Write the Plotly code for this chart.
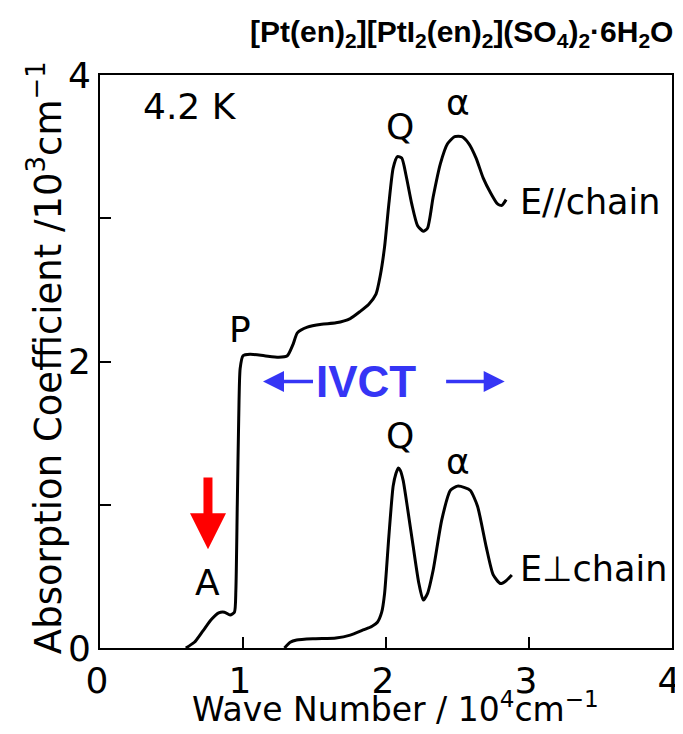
import plotly.graph_objects as go

# E // chain spectrum (x: wave number /10^4 cm^-1, y: absorption /10^3 cm^-1)
par_x = [0.60, 0.66, 0.72, 0.78, 0.83, 0.87, 0.91, 0.94, 0.95, 0.96, 0.97, 0.98, 1.00, 1.05,
         1.15, 1.25, 1.31, 1.35, 1.38, 1.45, 1.55, 1.65, 1.75, 1.82, 1.88, 1.93, 1.96, 1.99,
         2.02, 2.05, 2.08, 2.11, 2.14, 2.18, 2.22, 2.26, 2.29, 2.33, 2.38, 2.43, 2.48, 2.53,
         2.58, 2.63, 2.68, 2.73, 2.78, 2.81, 2.84]
par_y = [0.00, 0.04, 0.12, 0.20, 0.245, 0.25, 0.23, 0.25, 0.40, 1.00, 1.60, 1.95, 2.04, 2.05,
         2.04, 2.03, 2.04, 2.12, 2.20, 2.24, 2.26, 2.27, 2.30, 2.35, 2.40, 2.47, 2.60, 2.80,
         3.10, 3.35, 3.43, 3.42, 3.30, 3.10, 2.95, 2.91, 2.93, 3.15, 3.38, 3.52, 3.57, 3.57,
         3.52, 3.42, 3.28, 3.18, 3.10, 3.09, 3.13]

# E ⊥ chain spectrum
perp_x = [1.29, 1.33, 1.375, 1.50, 1.65, 1.75, 1.84, 1.90, 1.94, 1.97, 1.99, 2.02, 2.05, 2.07,
          2.086, 2.10, 2.12, 2.15, 2.19, 2.23, 2.26, 2.29, 2.33, 2.39, 2.45, 2.50, 2.55, 2.59,
          2.64, 2.70, 2.75, 2.80, 2.84, 2.88]
perp_y = [0.00, 0.04, 0.056, 0.065, 0.07, 0.09, 0.126, 0.15, 0.18, 0.25, 0.38, 0.78, 1.13, 1.22,
          1.257, 1.24, 1.17, 0.98, 0.71, 0.45, 0.335, 0.38, 0.545, 0.895, 1.10, 1.13, 1.12, 1.10,
          0.99, 0.71, 0.51, 0.45, 0.47, 0.51]

x_ticks = [0, 1, 2, 3, 4]
x_ticktext = ["0", "1", "2", "3", "4"]
y_ticks = [0, 1, 2, 3, 4]
y_ticktext = ["0", "", "2", "", "4"]

# labels: (text, x, y)
peak_labels = [("4.2 K", 0.63, 3.78), ("P", 0.98, 2.22), ("A", 0.755, 0.46),
               ("Q", 2.10, 3.64), ("α", 2.50, 3.81), ("Q", 2.10, 1.48), ("α", 2.50, 1.30)]
chain_labels = [("E//chain", 2.92, 3.11), ("E⊥chain", 2.92, 0.55)]

title_text = ("<b>[Pt(en)<sub>2</sub>][PtI<sub>2</sub>(en)<sub>2</sub>](SO<sub>4</sub>)<sub>2</sub>"
              "·6H<sub>2</sub>O</b>")
x_title = "Wave Number / 10<sup>4</sup>cm<sup>−1</sup>"
y_title = "Absorption Coefficient /10<sup>3</sup>cm<sup>−1</sup>"

font_main = "DejaVu Sans"
font_bold = "Liberation Sans, Arial"

fig = go.Figure()
fig.add_trace(go.Scatter(x=par_x, y=par_y, mode="lines",
                         line=dict(color="black", width=3, shape="spline", smoothing=0.6),
                         showlegend=False, hoverinfo="skip"))
fig.add_trace(go.Scatter(x=perp_x, y=perp_y, mode="lines",
                         line=dict(color="black", width=3, shape="spline", smoothing=0.6),
                         showlegend=False, hoverinfo="skip"))

annotations = []
for t, x, y in peak_labels:
    annotations.append(dict(x=x, y=y, xref="x", yref="y", text=t, showarrow=False,
                            font=dict(family=font_main, size=36, color="black")))
for t, x, y in chain_labels:
    annotations.append(dict(x=x, y=y, xref="x", yref="y", text=t, showarrow=False, xanchor="left",
                            font=dict(family=font_main, size=35, color="black")))

# IVCT label and arrows
blue = "#3535f5"
annotations.append(dict(x=1.86, y=1.86, xref="x", yref="y", text="<b>IVCT</b>", showarrow=False,
                        font=dict(family=font_bold, size=44, color=blue)))
annotations.append(dict(x=1.14, y=1.86, ax=1.50, ay=1.86, xref="x", yref="y", axref="x", ayref="y",
                        text="", showarrow=True, arrowhead=2, arrowsize=1.2, arrowwidth=3.5, arrowcolor=blue))
annotations.append(dict(x=2.83, y=1.86, ax=2.41, ay=1.86, xref="x", yref="y", axref="x", ayref="y",
                        text="", showarrow=True, arrowhead=2, arrowsize=1.2, arrowwidth=3.5, arrowcolor=blue))
# red arrow
annotations.append(dict(x=0.755, y=0.69, ax=0.755, ay=1.20, xref="x", yref="y", axref="x", ayref="y",
                        text="", showarrow=True, arrowhead=2, arrowsize=0.8, arrowwidth=9, arrowcolor="#ff0000"))

# title and axis titles
annotations.append(dict(x=1.005, y=1.073, xref="paper", yref="paper", xanchor="right", yanchor="middle",
                        text=title_text, showarrow=False,
                        font=dict(family=font_bold, size=30, color="black")))
annotations.append(dict(x=0.516, y=-0.104, xref="paper", yref="paper", xanchor="center", yanchor="middle",
                        text=x_title, showarrow=False,
                        font=dict(family=font_main, size=33, color="black")))
annotations.append(dict(x=-0.096, y=0.506, xref="paper", yref="paper", xanchor="center", yanchor="middle",
                        text=y_title, showarrow=False, textangle=-90,
                        font=dict(family=font_main, size=37, color="black")))

axis_common = dict(range=[0, 4], ticks="inside", ticklen=11, tickwidth=2, tickcolor="black",
                   showline=True, linecolor="black", linewidth=2, mirror=True, showgrid=False,
                   zeroline=False, automargin=False, ticklabeloverflow="allow",
                   tickfont=dict(family=font_main, size=36, color="black"))

fig.update_layout(
    width=667, height=718,
    margin=dict(l=92, r=3, t=67, b=78),
    paper_bgcolor="white", plot_bgcolor="white",
    annotations=annotations,
    xaxis=dict(tickvals=x_ticks, ticktext=x_ticktext, ticklabelshift=-3, **axis_common),
    yaxis=dict(tickvals=y_ticks, ticktext=y_ticktext, **axis_common),
)

fig.write_html("out.html")
